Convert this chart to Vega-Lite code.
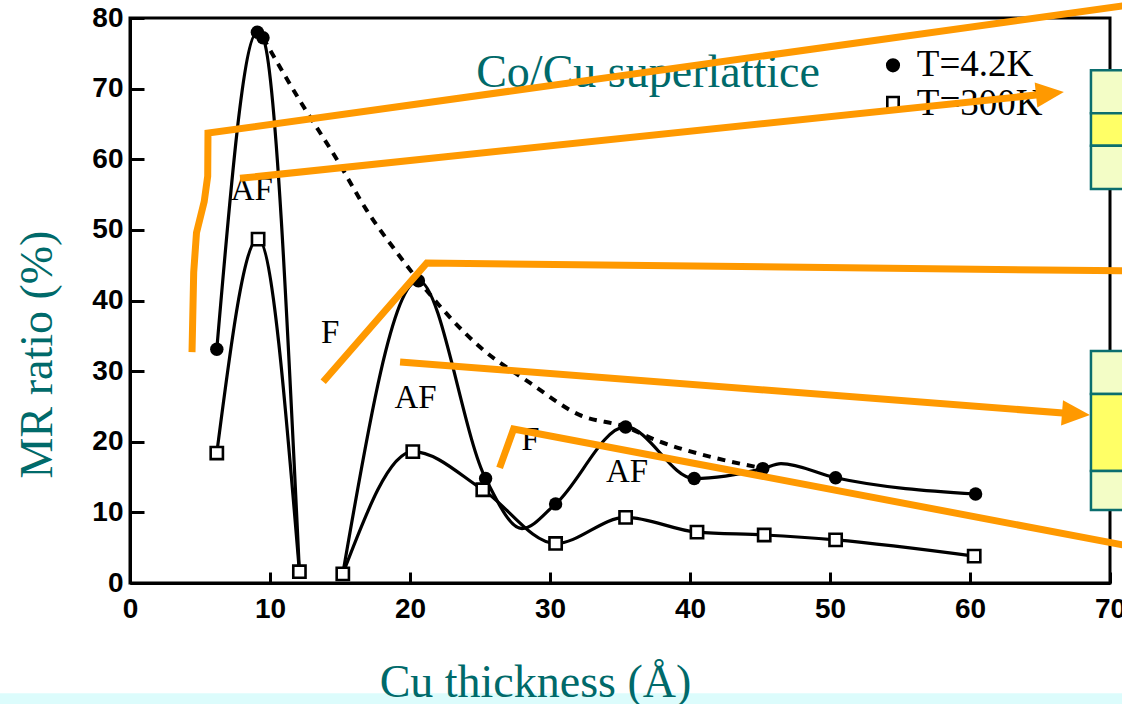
{
  "$schema": "https://vega.github.io/schema/vega-lite/v6.json",
  "width": 980,
  "height": 565,
  "autosize": {"type": "none"},
  "padding": {"left": 130, "top": 18, "right": 12, "bottom": 121},
  "background": "white",
  "config": {"view": {"stroke": "black", "strokeWidth": 3}},
  "datasets": {
    "pts": [
      {"grp": "4a", "s": "4.2K", "x": 6.2, "y": 33.1, "m": true},
      {"grp": "4a", "s": "4.2K", "x": 9.1, "y": 78.0, "m": true},
      {"grp": "4a", "s": "4.2K", "x": 9.5, "y": 77.2, "m": true},
      {"grp": "4a", "s": "4.2K", "x": 12.1, "y": 1.6, "m": false},
      {"grp": "4b", "s": "4.2K", "x": 15.2, "y": 1.3, "m": false},
      {"grp": "4b", "s": "4.2K", "x": 20.6, "y": 42.8, "m": true},
      {"grp": "4b", "s": "4.2K", "x": 25.4, "y": 14.8, "m": true},
      {"grp": "4b", "s": "4.2K", "x": 28.0, "y": 7.7, "m": false},
      {"grp": "4b", "s": "4.2K", "x": 30.4, "y": 11.2, "m": true},
      {"grp": "4b", "s": "4.2K", "x": 35.4, "y": 22.1, "m": true},
      {"grp": "4b", "s": "4.2K", "x": 40.3, "y": 14.8, "m": true},
      {"grp": "4b", "s": "4.2K", "x": 45.2, "y": 16.2, "m": true},
      {"grp": "4b", "s": "4.2K", "x": 46.5, "y": 16.9, "m": false},
      {"grp": "4b", "s": "4.2K", "x": 50.4, "y": 14.9, "m": true},
      {"grp": "4b", "s": "4.2K", "x": 60.4, "y": 12.6, "m": true},
      {"grp": "3a", "s": "300K", "x": 6.2, "y": 18.4, "m": true},
      {"grp": "3a", "s": "300K", "x": 9.15, "y": 48.7, "m": true},
      {"grp": "3a", "s": "300K", "x": 12.1, "y": 1.6, "m": true},
      {"grp": "3b", "s": "300K", "x": 15.2, "y": 1.3, "m": true},
      {"grp": "3b", "s": "300K", "x": 20.2, "y": 18.6, "m": true},
      {"grp": "3b", "s": "300K", "x": 25.2, "y": 13.2, "m": true},
      {"grp": "3b", "s": "300K", "x": 30.4, "y": 5.6, "m": true},
      {"grp": "3b", "s": "300K", "x": 35.4, "y": 9.3, "m": true},
      {"grp": "3b", "s": "300K", "x": 40.5, "y": 7.2, "m": true},
      {"grp": "3b", "s": "300K", "x": 45.3, "y": 6.8, "m": true},
      {"grp": "3b", "s": "300K", "x": 50.4, "y": 6.1, "m": true},
      {"grp": "3b", "s": "300K", "x": 60.3, "y": 3.8, "m": true}
    ],
    "env": [
      {"x": 9.5, "y": 77.2}, {"x": 12.1, "y": 68.4}, {"x": 14.8, "y": 59.9},
      {"x": 16.9, "y": 52.8}, {"x": 19.1, "y": 46.7}, {"x": 20.7, "y": 42.6},
      {"x": 25.0, "y": 33.4}, {"x": 28.6, "y": 28.3}, {"x": 32.1, "y": 23.8},
      {"x": 35.4, "y": 22.1}, {"x": 37.6, "y": 20.2}, {"x": 41.6, "y": 17.8},
      {"x": 44.8, "y": 16.4}
    ],
    "lab": [
      {"x": 8.7, "y": 55.6, "t": "AF"},
      {"x": 14.3, "y": 35.4, "t": "F"},
      {"x": 20.4, "y": 26.2, "t": "AF"},
      {"x": 28.6, "y": 20.2, "t": "F"},
      {"x": 35.5, "y": 15.7, "t": "AF"}
    ],
    "legtxt": [
      {"x": 56.2, "y": 71.8, "t": "T=4.2K"},
      {"x": 56.2, "y": 66.3, "t": "T=300K"}
    ],
    "legsym": [
      {"x": 54.5, "y": 73.3, "k": "c"},
      {"x": 54.5, "y": 68.0, "k": "s"}
    ],
    "title": [{"x": 37.0, "y": 70.2, "t": "Co/Cu superlattice"}],
    "box": [
      {"x": 68.64, "x2": 71.2, "y": 72.6, "y2": 66.5, "p": "d"},
      {"x": 68.64, "x2": 71.2, "y": 66.5, "y2": 61.9, "p": "m"},
      {"x": 68.64, "x2": 71.2, "y": 61.9, "y2": 55.8, "p": "d"},
      {"x": 68.64, "x2": 71.2, "y": 32.85, "y2": 26.76, "p": "d"},
      {"x": 68.64, "x2": 71.2, "y": 26.76, "y2": 15.86, "p": "m"},
      {"x": 68.64, "x2": 71.2, "y": 15.86, "y2": 10.34, "p": "d"}
    ],
    "band": [{"x": -9.4, "x2": 71.0, "y": -15.6, "y2": -17.3}],
    "orange": [
      {"id": 1, "i": 1, "x": 4.43, "y": 32.7},
      {"id": 1, "i": 2, "x": 4.55, "y": 44.0},
      {"id": 1, "i": 3, "x": 4.75, "y": 49.6},
      {"id": 1, "i": 4, "x": 5.3, "y": 54.0},
      {"id": 1, "i": 5, "x": 5.55, "y": 57.6},
      {"id": 1, "i": 6, "x": 5.57, "y": 63.7},
      {"id": 1, "i": 7, "x": 70.9, "y": 81.7},
      {"id": 2, "i": 1, "x": 7.86, "y": 57.3},
      {"id": 2, "i": 2, "x": 65.71, "y": 69.3},
      {"id": 3, "i": 1, "x": 13.8, "y": 28.5},
      {"id": 3, "i": 2, "x": 21.2, "y": 45.3},
      {"id": 3, "i": 3, "x": 70.9, "y": 44.2},
      {"id": 4, "i": 1, "x": 19.29, "y": 31.3},
      {"id": 4, "i": 2, "x": 67.57, "y": 23.93},
      {"id": 5, "i": 1, "x": 26.4, "y": 16.3},
      {"id": 5, "i": 2, "x": 27.4, "y": 21.8},
      {"id": 5, "i": 3, "x": 70.9, "y": 5.4}
    ],
    "heads": [
      {"id": 2, "x": 65.71, "y": 69.3},
      {"id": 4, "x": 67.57, "y": 23.93}
    ]
  },
  "encoding": {
    "x": {
      "field": "x", "type": "quantitative",
      "scale": {"domain": [0, 70], "nice": false, "zero": false},
      "axis": {
        "values": [0, 10, 20, 30, 40, 50, 60, 70],
        "grid": false, "zindex": 1,
        "domainColor": "black", "domainWidth": 3,
        "tickColor": "black", "tickWidth": 3, "tickSize": -11,
        "labelFont": "Liberation Sans",
        "labelFontSize": 28, "labelFontWeight": "bold", "labelColor": "black",
        "labelPadding": 23, "labelFlush": false, "labelOverlap": false,
        "title": "Cu thickness (Å)",
        "titleFont": "Liberation Serif", "titleFontSize": 46, "titleFontWeight": "normal",
        "titleColor": "#006a6a", "titleX": 405, "titleY": 113,
        "titleAlign": "center", "titleBaseline": "alphabetic"
      }
    },
    "y": {
      "field": "y", "type": "quantitative",
      "scale": {"domain": [0, 80], "nice": false, "zero": false},
      "axis": {
        "values": [0, 10, 20, 30, 40, 50, 60, 70, 80],
        "grid": false, "zindex": 1,
        "domainColor": "black", "domainWidth": 3,
        "tickColor": "black", "tickWidth": 3, "tickSize": -14,
        "labelFont": "Liberation Sans",
        "labelFontSize": 28, "labelFontWeight": "bold", "labelColor": "black",
        "labelPadding": 21, "labelFlush": false, "labelOverlap": false,
        "title": "MR ratio (%)",
        "titleFont": "Liberation Serif", "titleFontSize": 46, "titleFontWeight": "normal",
        "titleColor": "#006a6a", "titleX": -93, "titleY": 336, "titleAngle": -90,
        "titleAlign": "center", "titleBaseline": "middle"
      }
    }
  },
  "layer": [
    {
      "data": {"name": "band"},
      "mark": {"type": "rect", "color": "#dcfcfc", "clip": false},
      "encoding": {"x2": {"field": "x2"}, "y2": {"field": "y2"}}
    },
    {
      "data": {"name": "env"},
      "mark": {"type": "line", "color": "black", "strokeWidth": 4, "strokeDash": [8, 7], "interpolate": "monotone"},
      "encoding": {}
    },
    {
      "data": {"name": "pts"},
      "mark": {"type": "line", "color": "black", "strokeWidth": 3.2, "interpolate": "monotone"},
      "encoding": {"detail": {"field": "grp"}}
    },
    {
      "data": {"name": "pts"},
      "transform": [{"filter": "datum.s == '4.2K' && datum.m"}],
      "mark": {"type": "point", "shape": "circle", "filled": true, "color": "black", "size": 180, "opacity": 1}
    },
    {
      "data": {"name": "pts"},
      "transform": [{"filter": "datum.s == '300K' && datum.m"}],
      "mark": {"type": "point", "shape": "square", "filled": true, "fill": "white", "stroke": "black", "strokeWidth": 2.6, "size": 150, "opacity": 1}
    },
    {
      "data": {"name": "lab"},
      "mark": {"type": "text", "font": "Liberation Serif", "fontSize": 33, "color": "black", "align": "center", "baseline": "middle"},
      "encoding": {"text": {"field": "t"}}
    },
    {
      "data": {"name": "title"},
      "mark": {"type": "text", "font": "Liberation Serif", "fontSize": 46, "color": "#006a6a", "align": "center", "baseline": "alphabetic"},
      "encoding": {"text": {"field": "t"}}
    },
    {
      "data": {"name": "legtxt"},
      "mark": {"type": "text", "font": "Liberation Serif", "fontSize": 37, "color": "black", "align": "left", "baseline": "alphabetic"},
      "encoding": {"text": {"field": "t"}}
    },
    {
      "data": {"name": "legsym"},
      "transform": [{"filter": "datum.k == 'c'"}],
      "mark": {"type": "point", "shape": "circle", "filled": true, "color": "black", "size": 200, "opacity": 1}
    },
    {
      "data": {"name": "legsym"},
      "transform": [{"filter": "datum.k == 's'"}],
      "mark": {"type": "point", "shape": "square", "filled": true, "fill": "white", "stroke": "black", "strokeWidth": 2.6, "size": 130, "opacity": 1}
    },
    {
      "data": {"name": "box"},
      "mark": {"type": "rect", "stroke": "#0b6e6e", "strokeWidth": 2.5, "clip": false},
      "encoding": {
        "x2": {"field": "x2"}, "y2": {"field": "y2"},
        "fill": {"field": "p", "type": "nominal", "scale": {"domain": ["d", "m"], "range": ["#f3fdc6", "#ffff66"]}, "legend": null}
      }
    },
    {
      "data": {"name": "orange"},
      "mark": {"type": "line", "color": "#ff9900", "strokeWidth": 7, "strokeJoin": "miter", "strokeCap": "butt", "clip": false},
      "encoding": {"detail": {"field": "id"}, "order": {"field": "i", "type": "quantitative"}}
    },
    {
      "data": {"name": "heads"},
      "transform": [{"filter": "datum.id == 2"}],
      "mark": {"type": "point", "shape": "M-1,-0.9L1,0L-1,0.9Z", "filled": true, "color": "#ff9900", "size": 784, "angle": 354, "opacity": 1, "clip": false}
    },
    {
      "data": {"name": "heads"},
      "transform": [{"filter": "datum.id == 4"}],
      "mark": {"type": "point", "shape": "M-1,-0.9L1,0L-1,0.9Z", "filled": true, "color": "#ff9900", "size": 784, "angle": 4.4, "opacity": 1, "clip": false}
    }
  ]
}
